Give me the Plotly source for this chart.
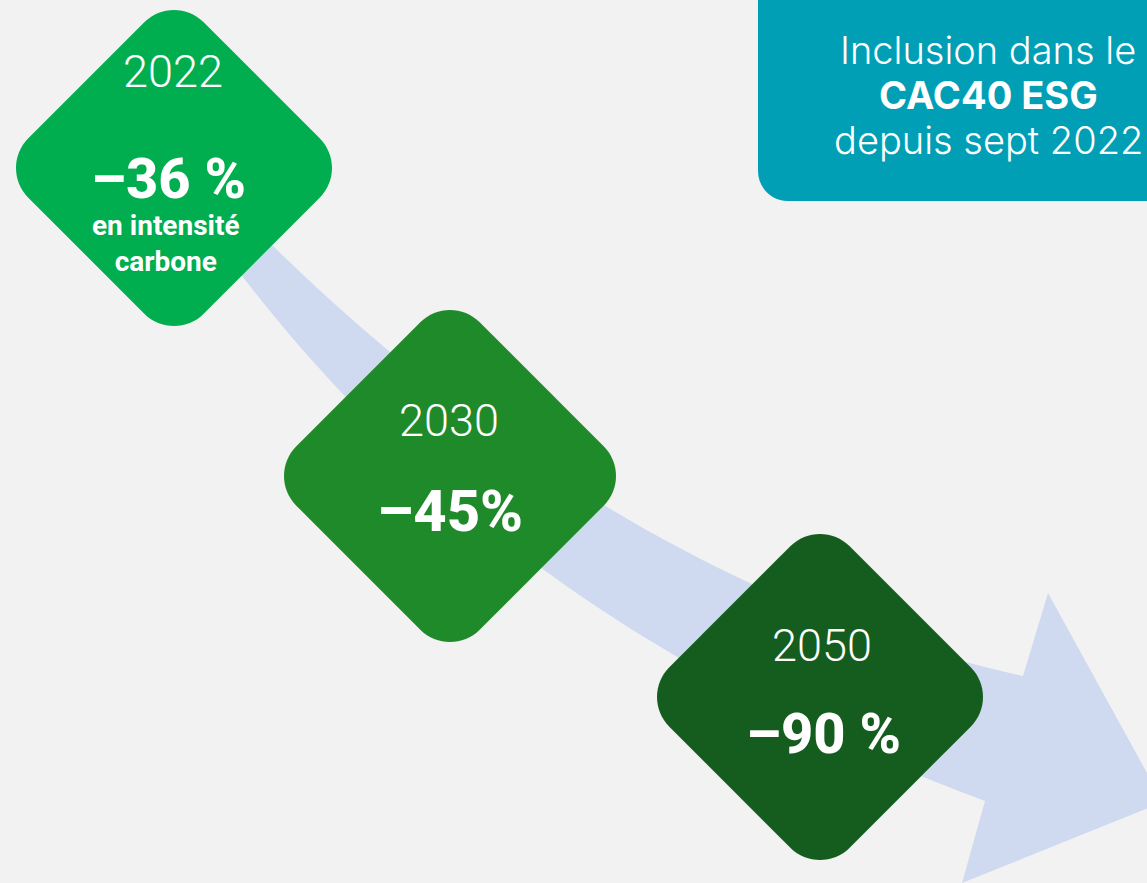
import numpy as np
import plotly.graph_objects as go

# ---- data (text content of the infographic) ----
years = ["2022", "2030", "2050"]
reductions = ["–36 %", "–45%", "–90 %"]
sub_label = ["en intensité", "carbone"]
box_lines = ["Inclusion dans le", "<b>CAC40 ESG</b>", "depuis sept 2022"]

# ---- layout / style ----
W, H = 1147, 883
BG = "#f2f2f2"
diamond_colors = ["#00ae4f", "#1f8a2a", "#155d1e"]
diamond_centers = [(174, 168), (450, 476), (820, 697)]
diamond_half = [158, 166, 163]
corner_r = 42
year_pos = [(173, 71), (449, 420), (822, 645)]
red_pos = [(168, 179), (450, 511), (823, 734)]
red_sizes = [56, 58, 56]
sub_pos = (166, 243)
box_text_pos = [(988, 50), (988, 95), (988, 140)]
box_weights = [300, 800, 300]
ARROW = "#cfd9ef"
TEAL = "#009fb5"


def fmt(p):
    return f"{p[0]:.2f},{p[1]:.2f}"


def rounded_poly(pts, r):
    pts = [np.array(p, float) for p in pts]
    n = len(pts)
    k = 0.5523
    corners = []
    for i in range(n):
        p = pts[i]
        a = pts[i - 1]
        b = pts[(i + 1) % n]
        u1 = (a - p) / np.linalg.norm(a - p)
        u2 = (b - p) / np.linalg.norm(b - p)
        t1 = p + u1 * r
        t2 = p + u2 * r
        c1 = t1 - u1 * r * k
        c2 = t2 - u2 * r * k
        corners.append((t1, c1, c2, t2))
    d = "M " + fmt(corners[0][0])
    for i in range(n):
        t1, c1, c2, t2 = corners[i]
        if i > 0:
            d += " L " + fmt(t1)
        d += " C " + fmt(c1) + " " + fmt(c2) + " " + fmt(t2)
    d += " Z"
    return d


shapes = []

# curved arrow
up = [(262, 235), (462, 435), (723, 610), (1023, 676)]
lo = [(230, 260), (398, 484), (628, 668), (985, 801)]
head_top, tip, head_bot = (1048, 593), (1163, 802), (962, 883)
arrow_path = ("M " + fmt(up[0]) + " C " + fmt(up[1]) + " " + fmt(up[2]) + " " + fmt(up[3])
              + " L " + fmt(head_top) + " L " + fmt(tip) + " L " + fmt(head_bot)
              + " L " + fmt(lo[3]) + " C " + fmt(lo[2]) + " " + fmt(lo[1]) + " " + fmt(lo[0]) + " Z")
shapes.append(dict(type="path", xref="x", yref="y", path=arrow_path,
                   fillcolor=ARROW, line=dict(width=0), layer="above"))

# diamonds
for (cx, cy), h, col in zip(diamond_centers, diamond_half, diamond_colors):
    hs = h + corner_r * (np.sqrt(2) - 1)
    pts = [(cx, cy - hs), (cx + hs, cy), (cx, cy + hs), (cx - hs, cy)]
    shapes.append(dict(type="path", xref="x", yref="y", path=rounded_poly(pts, corner_r),
                       fillcolor=col, line=dict(width=0), layer="above"))

# teal box
box = [(758, -40), (1200, -40), (1200, 201), (758, 201)]
shapes.append(dict(type="path", xref="x", yref="y", path=rounded_poly(box, 30),
                   fillcolor=TEAL, line=dict(width=0), layer="above"))

annotations = []
for (x, y), t in zip(year_pos, years):
    annotations.append(dict(x=x, y=y, xref="x", yref="y", text=t, showarrow=False,
                            xanchor="center", yanchor="middle",
                            font=dict(family="Roboto", size=45, color="white", weight=300)))
for (x, y), t, s in zip(red_pos, reductions, red_sizes):
    annotations.append(dict(x=x, y=y, xref="x", yref="y", text=t, showarrow=False,
                            xanchor="center", yanchor="middle",
                            font=dict(family="Roboto", size=s, color="white", weight=800)))
annotations.append(dict(x=sub_pos[0], y=sub_pos[1], xref="x", yref="y",
                        text="<br>".join(sub_label), showarrow=False,
                        xanchor="center", yanchor="middle", align="center",
                        font=dict(family="Roboto", size=28, color="white", weight=700)))
for (x, y), t, wt in zip(box_text_pos, box_lines, box_weights):
    annotations.append(dict(x=x, y=y, xref="x", yref="y", text=t, showarrow=False,
                            xanchor="center", yanchor="middle",
                            font=dict(family="Inter", size=38, color="white", weight=wt)))

fig = go.Figure()
fig.add_trace(go.Scatter(x=[0, W], y=[0, H], mode="markers",
                         marker=dict(opacity=0), hoverinfo="skip", showlegend=False))
fig.update_layout(
    width=W, height=H, margin=dict(l=0, r=0, t=0, b=0),
    paper_bgcolor=BG, plot_bgcolor=BG,
    xaxis=dict(range=[0, W], visible=False, fixedrange=True),
    yaxis=dict(range=[H, 0], visible=False, fixedrange=True),
    shapes=shapes, annotations=annotations, showlegend=False,
)
fig.write_html("out.html", post_script="document.body.style.margin='0';document.body.style.overflow='hidden';",
               config={"displayModeBar": False})
